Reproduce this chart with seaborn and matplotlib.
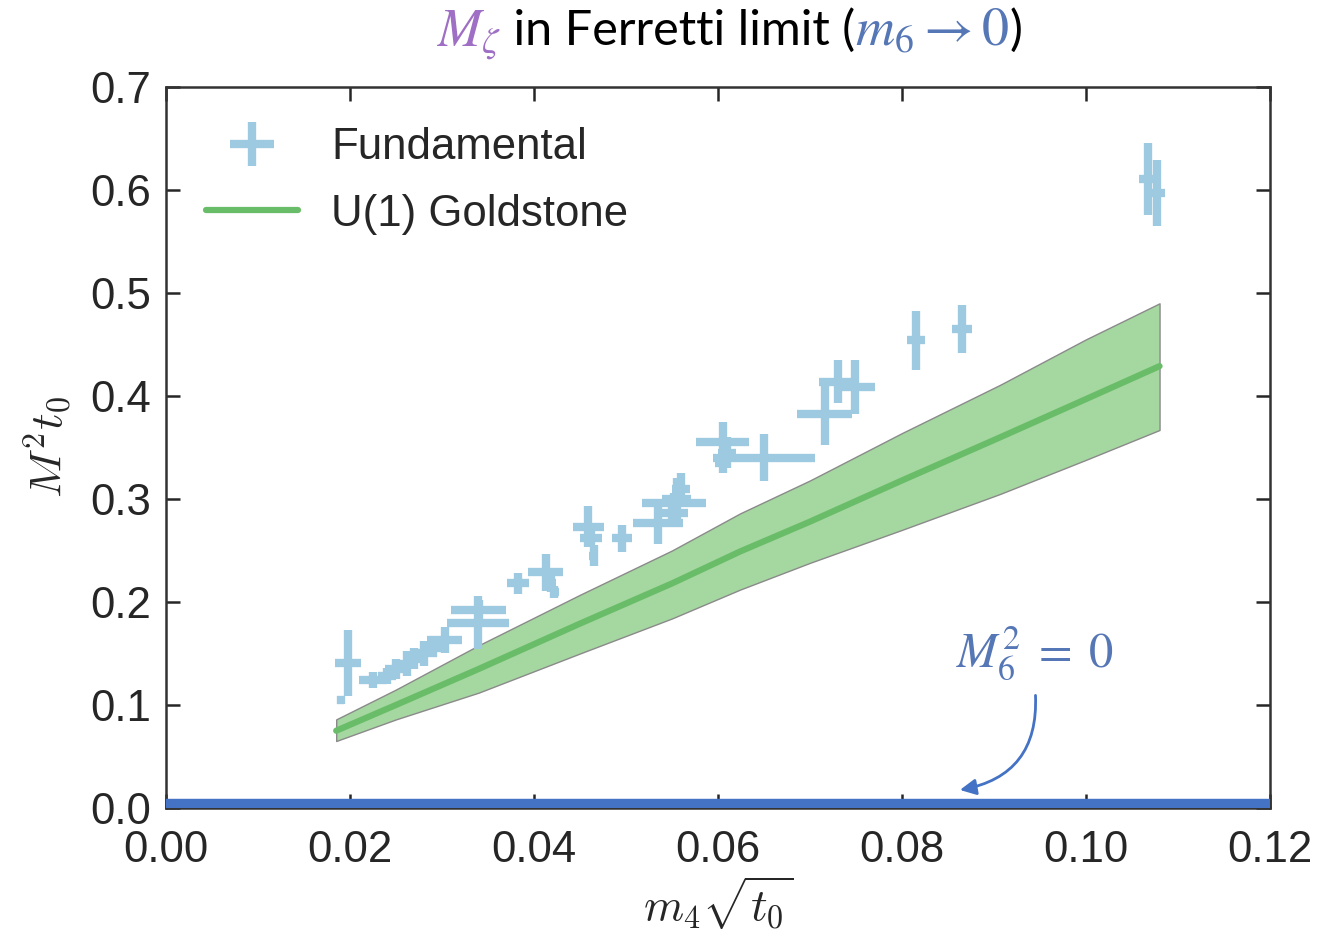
import matplotlib
matplotlib.use("Agg")
import numpy as np
import pandas as pd
import matplotlib.pyplot as plt
import seaborn as sns

# ── Data ──────────────────────────────────────────────────────
# fundamental-rep masses: x = m4*sqrt(t0), y = M^2 t0
fund_x = [0.0198, 0.0190, 0.0225, 0.0240, 0.0250, 0.0262, 0.0270, 0.0280, 0.0290,
          0.0303, 0.0339, 0.0340, 0.0383, 0.0413, 0.0418, 0.0422, 0.0459, 0.0462,
          0.0465, 0.0496, 0.0535, 0.0555, 0.0552, 0.0550, 0.0560, 0.0605, 0.0610,
          0.0605, 0.0650, 0.0716, 0.0730, 0.0749, 0.0815, 0.0865, 0.1067, 0.1077]
fund_y = [0.141, 0.105, 0.124, 0.128, 0.135, 0.140, 0.145, 0.150, 0.155,
          0.163, 0.180, 0.192, 0.218, 0.229, 0.218, 0.210, 0.273, 0.262,
          0.245, 0.262, 0.277, 0.300, 0.296, 0.286, 0.310, 0.355, 0.345,
          0.335, 0.340, 0.383, 0.414, 0.409, 0.454, 0.465, 0.611, 0.597]
fund_xerr = [0.0014, 0.0004, 0.0015, 0.0010, 0.0012, 0.0010, 0.0012, 0.0015, 0.0010,
             0.0019, 0.0034, 0.0030, 0.0012, 0.0019, 0.0006, 0.0005, 0.0017, 0.0012,
             0.0005, 0.0011, 0.0027, 0.0016, 0.0035, 0.0017, 0.0010, 0.0029, 0.0010,
             0.0008, 0.0055, 0.0030, 0.0020, 0.0022, 0.0010, 0.0011, 0.0009, 0.0009]
fund_yerr = [0.032, 0.004, 0.008, 0.008, 0.010, 0.012, 0.010, 0.012, 0.008,
             0.013, 0.026, 0.010, 0.010, 0.018, 0.008, 0.006, 0.020, 0.008,
             0.010, 0.013, 0.021, 0.020, 0.010, 0.010, 0.015, 0.020, 0.015,
             0.010, 0.023, 0.031, 0.021, 0.026, 0.029, 0.023, 0.035, 0.032]

# U(1) Goldstone prediction with band
gold_x = [0.0185, 0.025, 0.034, 0.045, 0.055, 0.0624, 0.070, 0.080, 0.0907, 0.100, 0.108]
gold_y = [0.075, 0.100, 0.135, 0.179, 0.218, 0.249, 0.278, 0.318, 0.360, 0.397, 0.429]
gold_hi = [0.086, 0.115, 0.158, 0.207, 0.250, 0.286, 0.318, 0.364, 0.411, 0.455, 0.490]
gold_lo = [0.065, 0.086, 0.112, 0.150, 0.184, 0.212, 0.238, 0.270, 0.305, 0.338, 0.367]

x_ticks = [0.00, 0.02, 0.04, 0.06, 0.08, 0.10, 0.12]
y_ticks = [0.0, 0.1, 0.2, 0.3, 0.4, 0.5, 0.6, 0.7]
m6_zero = 0.004

gold = pd.DataFrame({"x": gold_x, "y": gold_y})

# ── Style ─────────────────────────────────────────────────────
sns.set_theme(style="ticks")
plt.rcParams["font.family"] = ["Liberation Sans", "DejaVu Sans"]
plt.rcParams["mathtext.fontset"] = "cm"

fig = plt.figure(figsize=(13.27, 9.42), dpi=100)
ax = fig.add_axes([0.1251, 0.1423, 0.8319, 0.7653])

# ── Plot ──────────────────────────────────────────────────────
ax.fill_between(gold_x, gold_lo, gold_hi, facecolor="#a5d7a0", edgecolor="#8a8a8a",
                lw=1.0, zorder=2)
sns.lineplot(data=gold, x="x", y="y", ax=ax, color="#6abd68", lw=4.5,
             label="U(1) Goldstone", zorder=3)
ax.errorbar(fund_x, fund_y, xerr=fund_xerr, yerr=fund_yerr, fmt="none",
            ecolor="#9ecae1", elinewidth=6, capsize=0, label="Fundamental", zorder=4)
ax.axhline(m6_zero, color="#4472c4", lw=7.5, zorder=5)

ax.set_xlim(0, 0.12)
ax.set_ylim(0, 0.7)
ax.set_xticks(x_ticks)
ax.set_xticklabels([f"{v:.2f}" for v in x_ticks])
ax.set_yticks(y_ticks)
ax.set_yticklabels([f"{v:.1f}" for v in y_ticks])
ax.tick_params(direction="in", length=10, width=1.8, top=True, right=True,
               labelsize=31.5, colors="#262626")
ax.tick_params(axis="x", pad=16)
ax.tick_params(axis="y", pad=11)
for s in ax.spines.values():
    s.set_linewidth(1.8)
    s.set_color("#333333")

ax.set_xlabel(r"$m_4\sqrt{t_0}$", fontsize=33, labelpad=2)
ax.set_ylabel(r"$M^2t_0$", fontsize=33, labelpad=12)

h, l = ax.get_legend_handles_labels()
order = [l.index("Fundamental"), l.index("U(1) Goldstone")]
ax.legend([h[i] for i in order], [l[i] for i in order], loc="upper left",
          frameon=False, fontsize=31.5, handlelength=2.1, handletextpad=0.75,
          labelspacing=0.58, borderaxespad=0.52)

# M6^2 = 0 annotation
ax.annotate("", xy=(0.0860, 0.017), xytext=(0.0945, 0.112),
            arrowprops=dict(arrowstyle="-|>,head_length=0.8,head_width=0.4",
                            color="#4472c4", lw=2, connectionstyle="arc3,rad=-0.45"))
ax.text(0.0945, 0.150, r"$M_6^2\;=\;0$", fontsize=35, color="#5677b5",
        math_fontfamily="stix", ha="center", va="center")

# ── Multi-coloured title ──────────────────────────────────────
fig.canvas.draw()
renderer = fig.canvas.get_renderer()
pieces = [
    (r"$M_\zeta$", "#9e6fc4", dict(math_fontfamily="stix", fontsize=38)),
    (" in Ferretti limit (", "black", dict(family=["Lato", "DejaVu Sans"], fontsize=35)),
    (r"$m_6 \rightarrow 0$", "#5677b5", dict(math_fontfamily="stix", fontsize=39)),
    (")", "black", dict(family=["Lato", "DejaVu Sans"], fontsize=35)),
]
x = 0.329
for s, c, kw in pieces:
    t = fig.text(x, 0.952, s, color=c, va="baseline", ha="left", **kw)
    x = t.get_window_extent(renderer).x1 / fig.bbox.width

fig.savefig("out.png", dpi=100)
